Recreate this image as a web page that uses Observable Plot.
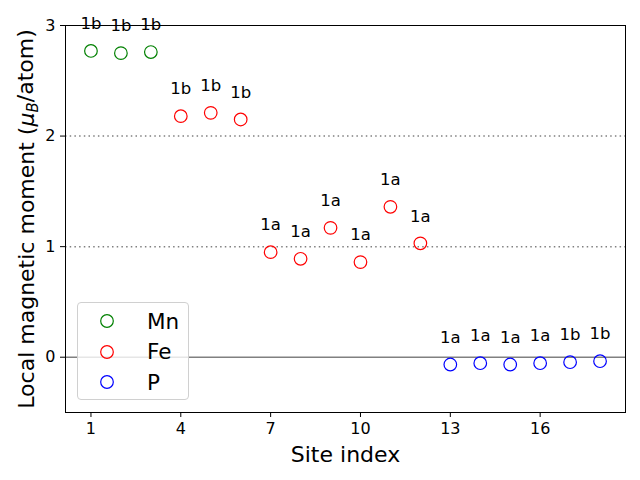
<!DOCTYPE html>
<html>
<head>
<meta charset="utf-8">
<script src="https://cdn.jsdelivr.net/npm/d3@7"></script>
<script src="https://cdn.jsdelivr.net/npm/@observablehq/plot@0.6"></script>
<style>
  body { margin: 0; background: white; }
  #wrap { position: relative; width: 640px; height: 480px; font-family: "DejaVu Sans", sans-serif; }
  #legend { position: absolute; left: 77px; top: 302px; width: 110px; height: 96px;
    border: 1px solid #d0d0d0; border-radius: 4px; background: rgba(255,255,255,0.8); }
  .item { position: absolute; left: 0; height: 30px; display: flex; align-items: center; font-size: 21.5px; color: black; }
  .item svg { margin-left: 21px; margin-right: 32px; }
</style>
</head>
<body>
<div id="wrap"></div>
<script>
const sites = [1, 2, 3, 4, 5, 6, 7, 8, 9, 10, 11, 12, 13, 14, 15, 16, 17, 18];
const elements = ["Mn", "Mn", "Mn", "Fe", "Fe", "Fe", "Fe", "Fe", "Fe", "Fe", "Fe", "Fe", "P", "P", "P", "P", "P", "P"];
const moments = [2.77, 2.75, 2.76, 2.18, 2.21, 2.15, 0.95, 0.89, 1.17, 0.86, 1.36, 1.03, -0.066, -0.054, -0.066, -0.054, -0.045, -0.036];
const wyckoff = ["1b", "1b", "1b", "1b", "1b", "1b", "1a", "1a", "1a", "1a", "1a", "1a", "1a", "1a", "1a", "1a", "1b", "1b"];
const seriesNames = ["Mn", "Fe", "P"];
const seriesColors = ["green", "red", "blue"];
const xTicks = [1, 4, 7, 10, 13, 16];
const yTicks = [0, 1, 2, 3];
const dottedLevels = [1, 2];
const zeroLevel = [0];
const xLabel = "Site index";
const yLabel = "Local magnetic moment (μB/atom)";

const data = sites.map((s, i) => ({site: s, element: elements[i], moment: moments[i], label: wyckoff[i]}));

const chart = Plot.plot({
  width: 640,
  height: 480,
  marginTop: 25,
  marginRight: 15,
  marginBottom: 68,
  marginLeft: 65,
  style: {fontFamily: "DejaVu Sans, sans-serif", fontSize: "16px", color: "black", background: "white"},
  x: {domain: [0.15, 18.85]},
  y: {domain: [-0.5, 3]},
  color: {domain: seriesNames, range: seriesColors},
  marks: [
    Plot.ruleY(dottedLevels, {stroke: "gray", strokeWidth: 1.5, strokeDasharray: "1.5,3.2"}),
    Plot.ruleY(zeroLevel, {stroke: "gray", strokeWidth: 1.6}),
    Plot.dot(data, {x: "site", y: "moment", stroke: "element", r: 6.3, strokeWidth: 1.2, fill: "none"}),
    Plot.text(data, {x: "site", y: "moment", text: "label", dy: -27, fontSize: 16.5, fill: "black"}),
    Plot.axisX({ticks: xTicks, tickSize: 5, tickPadding: 5, fontSize: 16, label: null, tickFormat: d => String(d)}),
    Plot.axisY({ticks: yTicks, tickSize: 5, tickPadding: 5, fontSize: 16, label: null, tickFormat: d => String(d)}),
    Plot.frame({stroke: "black", strokeWidth: 1}),
    Plot.text([xLabel], {frameAnchor: "bottom", dy: 42, fontSize: 22, fill: "black", lineAnchor: "middle", textAnchor: "middle"}),
    Plot.text([yLabel], {frameAnchor: "left", rotate: -90, dx: -39, fontSize: 22, fill: "black", lineAnchor: "middle", textAnchor: "middle"})
  ]
});

const wrap = document.getElementById("wrap");
wrap.appendChild(chart);

// Rich text for y label: italic mu with subscript B
d3.select(chart).selectAll("text").each(function() {
  if (this.textContent === yLabel) {
    const t = d3.select(this);
    t.text(null);
    t.append("tspan").text("Local magnetic moment (");
    t.append("tspan").attr("font-style", "italic").text("μ");
    t.append("tspan").attr("font-style", "italic").attr("font-size", "15px").attr("dy", "0.3em").text("B");
    t.append("tspan").attr("dy", "-0.21em").text("/atom)");
  }
});

// Legend
const legend = d3.select(wrap).append("div").attr("id", "legend");
seriesNames.forEach((name, i) => {
  const item = legend.append("div").attr("class", "item").style("top", (3 + i * 30.5) + "px");
  const s = item.append("svg").attr("width", 16).attr("height", 16);
  s.append("circle").attr("cx", 8).attr("cy", 8).attr("r", 6.3)
    .attr("fill", "none").attr("stroke", seriesColors[i]).attr("stroke-width", 1.2);
  item.append("span").text(name);
});
</script>
</body>
</html>
